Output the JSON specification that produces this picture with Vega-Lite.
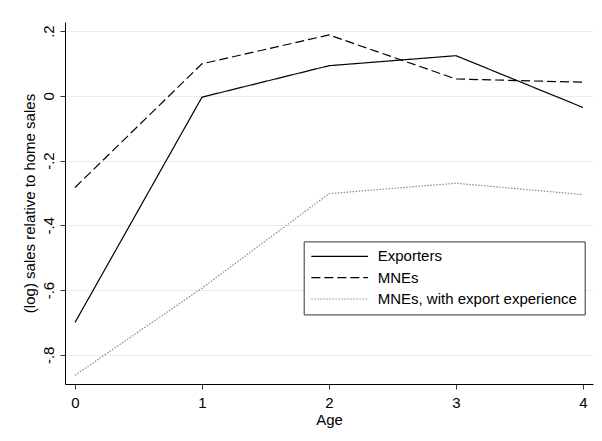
{
  "$schema": "https://vega.github.io/schema/vega-lite/v6.json",
  "width": 528,
  "height": 362,
  "autosize": "none",
  "padding": {"left": 65, "top": 22, "right": 9, "bottom": 57},
  "background": "white",
  "config": {
    "view": {"stroke": null},
    "font": "Liberation Sans",
    "axis": {"labelFont": "Liberation Sans", "titleFont": "Liberation Sans", "labelFontSize": 15, "titleFontSize": 15, "titleFontWeight": "normal", "labelColor": "black", "titleColor": "black", "domainColor": "black", "tickColor": "#333", "tickSize": 5}
  },
  "data": {
    "values": [
      {"age": 0, "series": "Exporters", "value": -0.700},
      {"age": 1, "series": "Exporters", "value": -0.004},
      {"age": 2, "series": "Exporters", "value": 0.093},
      {"age": 3, "series": "Exporters", "value": 0.124},
      {"age": 4, "series": "Exporters", "value": -0.036},
      {"age": 0, "series": "MNEs", "value": -0.283},
      {"age": 1, "series": "MNEs", "value": 0.099},
      {"age": 2, "series": "MNEs", "value": 0.188},
      {"age": 3, "series": "MNEs", "value": 0.052},
      {"age": 4, "series": "MNEs", "value": 0.042},
      {"age": 0, "series": "MNEs, with export experience", "value": -0.863},
      {"age": 1, "series": "MNEs, with export experience", "value": -0.594},
      {"age": 2, "series": "MNEs, with export experience", "value": -0.302},
      {"age": 3, "series": "MNEs, with export experience", "value": -0.270},
      {"age": 4, "series": "MNEs, with export experience", "value": -0.305}
    ]
  },
  "mark": {"type": "line", "strokeWidth": 1.2},
  "encoding": {
    "x": {
      "field": "age", "type": "quantitative", "title": "Age",
      "scale": {"domain": [-0.0788, 4.0788], "nice": false, "zero": false},
      "axis": {"values": [0, 1, 2, 3, 4], "grid": false, "labelPadding": 6, "titlePadding": 2, "labelFlush": false}
    },
    "y": {
      "field": "value", "type": "quantitative", "title": "(log) sales relative to home sales",
      "scale": {"domain": [-0.890, 0.228], "nice": false, "zero": false},
      "axis": {
        "values": [-0.8, -0.6, -0.4, -0.2, 0, 0.2],
        "labelExpr": "datum.value == 0 ? '0' : (datum.value < 0 ? '-' : '') + '.' + round(abs(datum.value) * 10)",
        "labelAngle": -90, "labelAlign": "center", "labelBaseline": "bottom", "labelPadding": 4,
        "titlePadding": 4, "grid": true, "gridColor": "#e6eef0", "gridWidth": 1, "labelFlush": false
      }
    },
    "color": {
      "field": "series", "type": "nominal",
      "scale": {"domain": ["Exporters", "MNEs", "MNEs, with export experience"], "range": ["black", "black", "#8a8a8a"]},
      "legend": {
        "title": null, "orient": "none", "legendX": 238.7, "legendY": 219.4,
        "symbolType": "stroke", "symbolSize": 3215, "symbolStrokeWidth": 1.2,
        "clipHeight": 16, "rowPadding": 5.3, "padding": 7, "labelOffset": 9,
        "labelFontSize": 15, "labelFont": "Liberation Sans", "labelColor": "black",
        "labelExpr": "datum.label + '\u00a0\u00a0\u00a0'", "labelLimit": 400,
        "strokeColor": "#333", "fillColor": "white"
      }
    },
    "strokeDash": {
      "field": "series", "type": "nominal",
      "scale": {"domain": ["Exporters", "MNEs", "MNEs, with export experience"], "range": [[1, 0], [9, 4], [1.5, 1.5]]},
      "legend": null
    }
  }
}
